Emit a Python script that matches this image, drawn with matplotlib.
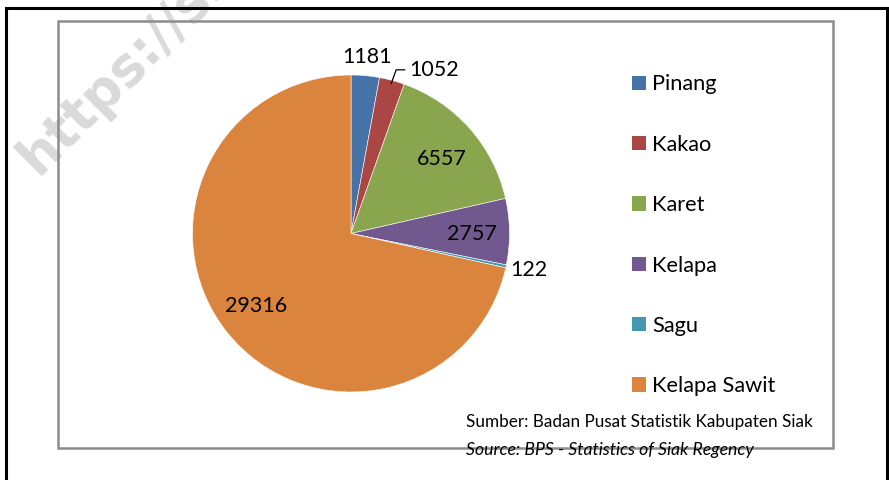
import numpy as np
import matplotlib
matplotlib.use("Agg")
import matplotlib.pyplot as plt
from matplotlib.patches import Rectangle

categories = ["Pinang", "Kakao", "Karet", "Kelapa", "Sagu", "Kelapa Sawit"]
values = [1181, 1052, 6557, 2757, 122, 29316]
colors = ["#4572A7", "#AA4643", "#89A54E", "#71588F", "#4198AF", "#DB843D"]
source_lines = ["Sumber: Badan Pusat Statistik Kabupaten Siak",
                "Source: BPS - Statistics of Siak Regency"]

W, H = 889, 480
fig = plt.figure(figsize=(W / 100, H / 100), dpi=100)
fig.patch.set_facecolor("white")
plt.rcParams["font.family"] = ["Lato", "DejaVu Sans"]

def fx(px):
    return px / W

def fy(py):
    return 1 - py / H

# watermark (beneath the frames)
fig.text(fx(38), fy(176), "https://siakkab.bps.go.id", rotation=45,
         rotation_mode="anchor", ha="left", va="baseline", fontsize=38,
         fontweight="bold", color="#dadada", zorder=0.5,
         family="DejaVu Sans")

# outer black frame (bottom edge falls outside the picture)
fig.patches.append(Rectangle((fx(6), fy(490)), fx(881), (490 - 7.5) / H,
                             transform=fig.transFigure, fill=False,
                             edgecolor="black", linewidth=2.2, zorder=1))
# inner gray plot-area frame
fig.patches.append(Rectangle((fx(57.5), fy(448)), fx(775), (448 - 20.5) / H,
                             transform=fig.transFigure, fill=False,
                             edgecolor="#8c8c8c", linewidth=1.8, zorder=1))

# pie axes
cx, cy, r = 351, 233.5, 158.5
ax = fig.add_axes([fx(cx - r), fy(cy + r), fx(2 * r), 2 * r / H])
wedges, _ = ax.pie(values, colors=colors, startangle=90, counterclock=False,
                   radius=1.0, wedgeprops=dict(linewidth=0.4, edgecolor="white"))
ax.set_xlim(-1, 1)
ax.set_ylim(-1, 1)
ax.set_aspect("equal")
ax.axis("off")

total = sum(values)
# radial distance of each label (fraction of radius); Kakao uses a leader line
label_r = [1.13, None, 0.745, 0.76, 1.14, 0.745]
label_da = [0, 0, -1.5, 0, 1.0, -2.0]   # small angular nudges (degrees)
fs = 15.5
angle = 90.0
for i, v in enumerate(values):
    span = 360.0 * v / total
    mid = np.deg2rad(angle - span / 2 + label_da[i])
    angle -= span
    if label_r[i] is None:
        ex, ey = np.cos(mid) * 0.978, np.sin(mid) * 0.978
        ax.annotate(str(v), xy=(ex, ey), xytext=(ex + 0.113, ey + 0.05),
                    ha="left", va="baseline", fontsize=fs, color="black",
                    annotation_clip=False,
                    arrowprops=dict(arrowstyle="-", color="black", lw=0.9,
                                    shrinkA=1, shrinkB=0,
                                    connectionstyle="angle,angleA=0,angleB=70,rad=0"))
    else:
        d = label_r[i]
        ax.text(np.cos(mid) * d, np.sin(mid) * d, str(v), ha="center",
                va="center_baseline", fontsize=fs, color="black", clip_on=False)

# legend
lfs = 15.7
leg = fig.legend(wedges, categories, loc="upper left",
                 bbox_to_anchor=(fx(632), fy(74.5)), frameon=False,
                 fontsize=lfs, handlelength=0.64, handleheight=0.64,
                 handletextpad=0.28, labelspacing=1.85, borderpad=0,
                 borderaxespad=0)
for h in leg.legend_handles:
    h.set_edgecolor("none")

# source notes
fig.text(fx(466), fy(421), source_lines[0], ha="left", va="center_baseline",
         fontsize=12.3, color="black")
fig.text(fx(466), fy(449), source_lines[1], ha="left", va="center_baseline",
         fontsize=12.7, color="black", style="italic")

fig.savefig("out.png", dpi=100)
